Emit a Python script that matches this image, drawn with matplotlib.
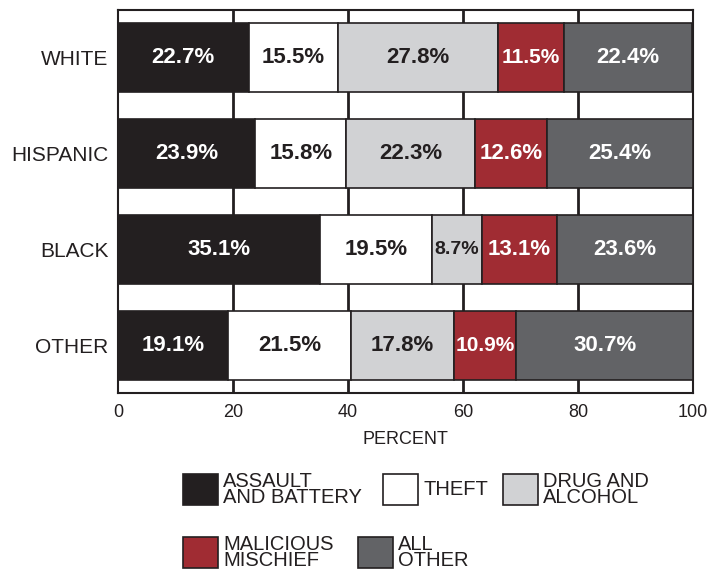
import matplotlib
matplotlib.use("Agg")
import matplotlib.pyplot as plt
from matplotlib.patches import Rectangle

plt.rcParams['font.family'] = ['Liberation Sans', 'DejaVu Sans']

groups = ["WHITE", "HISPANIC", "BLACK", "OTHER"]
categories = ["ASSAULT\nAND BATTERY", "THEFT", "DRUG AND\nALCOHOL", "MALICIOUS\nMISCHIEF", "ALL\nOTHER"]
assault = [22.7, 23.9, 35.1, 19.1]
theft = [15.5, 15.8, 19.5, 21.5]
drug = [27.8, 22.3, 8.7, 17.8]
malicious = [11.5, 12.6, 13.1, 10.9]
other = [22.4, 25.4, 23.6, 30.7]
series = [assault, theft, drug, malicious, other]
colors = ["#231f20", "#ffffff", "#d1d2d4", "#a02c33", "#626366"]
text_colors = ["white", "#231f20", "#231f20", "white", "white"]
xticks = [0, 20, 40, 60, 80, 100]

fig = plt.figure(figsize=(7.10, 5.71), dpi=100)
ax = fig.add_axes([118/710, 1-393/571, (693-118)/710, (393-10)/571])

y = list(range(len(groups)))
left = [0.0]*len(groups)
for s, c, tc in zip(series, colors, text_colors):
    ax.barh(y, s, left=left, height=0.72, color=c, edgecolor="#231f20", linewidth=1.2, zorder=3)
    for yi, (l, v) in enumerate(zip(left, s)):
        fs = 16 if v >= 12 else (15 if v >= 10 else 14)
        ax.text(l + v/2, yi, f"{v}%", ha="center", va="center", color=tc,
                fontsize=fs, fontweight="bold", zorder=4)
    left = [a+b for a, b in zip(left, s)]

ax.set_xlim(0, 100)
ax.set_ylim(len(groups)-0.5, -0.5)
ax.set_yticks(y)
ax.set_yticklabels(groups, fontsize=15, color="#231f20")
ax.set_xticks(xticks)
ax.set_xticklabels([str(t) for t in xticks], fontsize=13, color="#231f20")
ax.tick_params(length=0)
ax.tick_params(axis='x', pad=8)
ax.tick_params(axis='y', pad=7)
for xt in xticks[1:-1]:
    ax.axvline(xt, color="#231f20", linewidth=2, zorder=1)
for sp in ax.spines.values():
    sp.set_color("#231f20")
    sp.set_linewidth(1.5)
ax.set_xlabel("PERCENT", fontsize=13, color="#231f20", labelpad=7)

# legend
legend_pos = [(183, 474), (383, 474), (503, 474), (183, 537), (358, 537)]
sw, sh = 35, 31
for (px, py), c, lab in zip(legend_pos, colors, categories):
    fig.add_artist(Rectangle((px/710, 1-(py+sh)/571), sw/710, sh/571,
                             facecolor=c, edgecolor="#231f20", linewidth=1.2,
                             transform=fig.transFigure))
    fig.text((px+sw+5)/710, 1-(py+sh/2)/571, lab, ha="left", va="center",
             fontsize=14.5, color="#231f20", linespacing=0.8)

fig.savefig("out.png", dpi=100)
